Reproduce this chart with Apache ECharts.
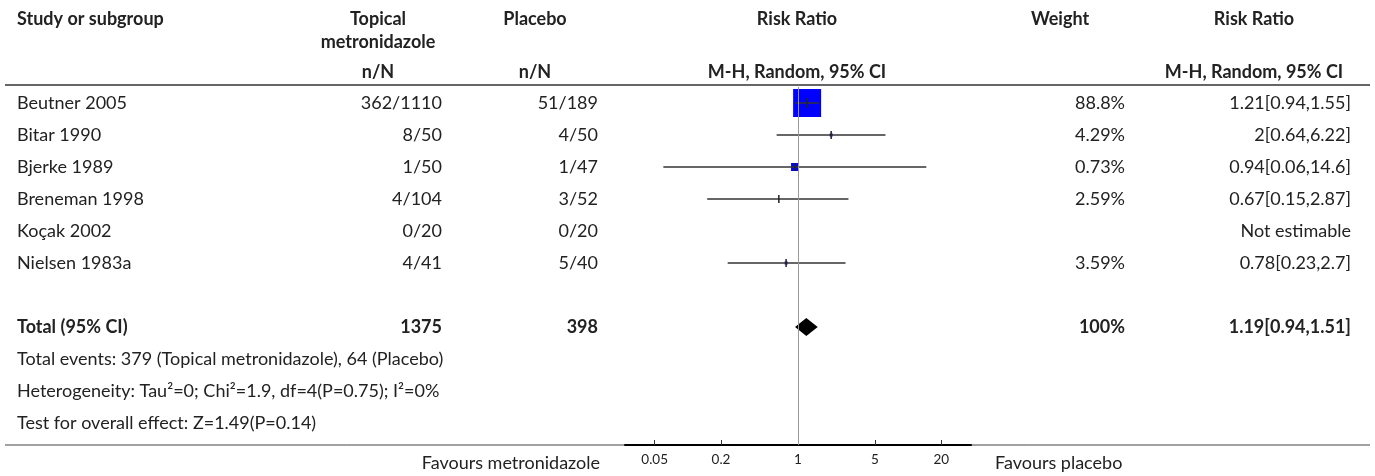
<!DOCTYPE html>
<html><head><meta charset="utf-8">
<script src="https://cdn.jsdelivr.net/npm/echarts@6/dist/echarts.min.js"></script>
<style>html,body{margin:0;padding:0;background:#fff}#c{width:1375px;height:476px}</style>
</head><body><div id="c"></div>
<script>
const studies = ['Beutner 2005','Bitar 1990','Bjerke 1989','Breneman 1998','Koçak 2002','Nielsen 1983a'];
const topicalNN = ['362/1110','8/50','1/50','4/104','0/20','4/41'];
const placeboNN = ['51/189','4/50','1/47','3/52','0/20','5/40'];
const weightText = ['88.8%','4.29%','0.73%','2.59%','','3.59%'];
const rr = [1.21, 2, 0.94, 0.67, null, 0.78];
const ciLow = [0.94, 0.64, 0.06, 0.15, null, 0.23];
const ciHigh = [1.55, 6.22, 14.6, 2.87, null, 2.7];
const rrText = ['1.21[0.94,1.55]','2[0.64,6.22]','0.94[0.06,14.6]','0.67[0.15,2.87]','Not estimable','0.78[0.23,2.7]'];
const totalLabel = 'Total (95% CI)';
const totalTopical = '1375';
const totalPlacebo = '398';
const totalWeight = '100%';
const totalRR = [1.19, 0.94, 1.51];
const totalRRText = '1.19[0.94,1.51]';
const footnotes = ['Total events: 379 (Topical metronidazole), 64 (Placebo)',
  'Heterogeneity: Tau\u00B2=0; Chi\u00B2=1.9, df=4(P=0.75); I\u00B2=0%',
  'Test for overall effect: Z=1.49(P=0.14)'];
const tickValues = [0.05, 0.2, 1, 5, 20];
const favoursLeft = 'Favours metronidazole';
const favoursRight = 'Favours placebo';

// layout / style constants
const boxPx = [28, 3, 8, 1, 0, 3];
const FONT = 'Lato';
const FS = 18;
const TXT = '#222';
const COL = {study: 17, topical: 442, placebo: 598, weight: 1125, rr: 1351};
const HEAD = {topical: 378, placebo: 535, forest: 797, weight: 1060, rr: 1254};
const studyRows = studies.map((s, i) => i);
const totalRow = 7;
const footRows = [8, 9, 10];
const AXMAX = 37.15;

const chart = echarts.init(document.getElementById('c'), null, {renderer: 'canvas'});

function txt(x, y, s, align, bold, size) {
  return {type: 'text', x: x, y: y, style: {text: s, x: 0, y: 0, textAlign: align, textVerticalAlign: 'middle',
    font: (bold ? 'bold ' : '') + (size || FS) + 'px ' + FONT, fill: TXT}};
}

const tableData = studies.map((s, i) => [1, studyRows[i], i]);
tableData.push([1, totalRow, -1]);
footRows.forEach((r, k) => tableData.push([1, r, -2 - k]));

const graphics = [
  txt(17, 19, 'Study or subgroup', 'left', true),
  txt(HEAD.topical, 19, 'Topical', 'center', true),
  txt(HEAD.topical, 42, 'metronidazole', 'center', true),
  txt(HEAD.topical, 72, 'n/N', 'center', true),
  txt(HEAD.placebo, 19, 'Placebo', 'center', true),
  txt(HEAD.placebo, 72, 'n/N', 'center', true),
  txt(HEAD.forest, 19, 'Risk Ratio', 'center', true),
  txt(HEAD.forest, 72, 'M-H, Random, 95% CI', 'center', true),
  txt(HEAD.weight, 19, 'Weight', 'center', true),
  txt(HEAD.rr, 19, 'Risk Ratio', 'center', true),
  txt(HEAD.rr, 72, 'M-H, Random, 95% CI', 'center', true),
  {type: 'line', shape: {x1: 5, y1: 85, x2: 1370, y2: 85}, style: {stroke: '#333', lineWidth: 1.5}},
  {type: 'line', shape: {x1: 5, y1: 445, x2: 1370, y2: 445}, style: {stroke: '#444', lineWidth: 1}},
  txt(600, 463, favoursLeft, 'right', false),
  txt(995, 463, favoursRight, 'left', false)
];

chart.setOption({
  animation: false,
  grid: {left: 625, width: 346, top: 87, height: 358},
  xAxis: {
    type: 'log', min: 1 / AXMAX, max: AXMAX, logBase: 10,
    axisLine: {show: true, onZero: false, lineStyle: {color: '#000', width: 2}},
    axisTick: {show: true, inside: true, length: 5, customValues: tickValues, lineStyle: {color: '#333', width: 1}},
    axisLabel: {show: true, customValues: tickValues, margin: 8, fontSize: 13.5, fontFamily: FONT, color: TXT,
      formatter: v => String(v)},
    splitLine: {show: false}, minorTick: {show: false}
  },
  yAxis: {type: 'value', inverse: true, min: -0.5, max: 10.6875, show: false},
  graphic: graphics,
  series: [
    {
      type: 'custom', name: 'table', silent: true, clip: false,
      data: tableData,
      renderItem: function (params, api) {
        const k = api.value(2);
        const y = api.coord([1, api.value(1)])[1];
        const ch = [];
        const t = (x, s, a, b) => ch.push({type: 'text', style: {text: s, x: x, y: y, textAlign: a, textVerticalAlign: 'middle',
          font: (b ? 'bold ' : '') + FS + 'px ' + FONT, fill: TXT}});
        if (k >= 0) {
          t(COL.study, studies[k], 'left');
          t(COL.topical, topicalNN[k], 'right');
          t(COL.placebo, placeboNN[k], 'right');
          t(COL.weight, weightText[k], 'right');
          t(COL.rr, rrText[k], 'right');
        } else if (k === -1) {
          t(COL.study, totalLabel, 'left', true);
          t(COL.topical, totalTopical, 'right', true);
          t(COL.placebo, totalPlacebo, 'right', true);
          t(COL.weight, totalWeight, 'right', true);
          t(COL.rr, totalRRText, 'right', true);
        } else {
          t(COL.study, footnotes[-2 - k], 'left');
        }
        return {type: 'group', children: ch};
      }
    },
    {
      type: 'custom', name: 'studies', silent: true, clip: false,
      data: studies.map((s, i) => rr[i] == null ? null : [rr[i], ciLow[i], ciHigh[i], studyRows[i], i]).filter(d => d),
      encode: {x: [0, 1, 2], y: 3},
      renderItem: function (params, api) {
        const row = api.value(3);
        const c = api.coord([api.value(0), row]);
        const l = api.coord([api.value(1), row]);
        const h = api.coord([api.value(2), row]);
        const b = boxPx[api.value(4)];
        const tick = api.value(4) === 0 ? 10 : 8;
        return {type: 'group', children: [
          {type: 'rect', shape: {x: c[0] - b / 2, y: c[1] - b / 2, width: b, height: b}, style: {fill: '#0000ff'}},
          {type: 'line', shape: {x1: l[0], y1: c[1], x2: h[0], y2: c[1]}, style: {stroke: '#333', lineWidth: 1.5}},
          {type: 'line', shape: {x1: c[0], y1: c[1] - tick / 2, x2: c[0], y2: c[1] + tick / 2}, style: {stroke: '#222', lineWidth: 1.5}}
        ]};
      },
      markLine: {
        silent: true, symbol: 'none', label: {show: false},
        lineStyle: {color: '#999', width: 1, type: 'solid'},
        data: [{xAxis: 1}]
      }
    },
    {
      type: 'custom', name: 'total', silent: true, clip: false,
      data: [[totalRR[0], totalRR[1], totalRR[2], totalRow]],
      encode: {x: [0, 1, 2], y: 3},
      renderItem: function (params, api) {
        const row = api.value(3);
        const c = api.coord([api.value(0), row]);
        const l = api.coord([api.value(1), row]);
        const h = api.coord([api.value(2), row]);
        return {type: 'polygon', shape: {points: [[l[0], c[1]], [c[0], c[1] - 9], [h[0], c[1]], [c[0], c[1] + 9]]},
          style: {fill: '#000'}};
      }
    }
  ]
});
</script></body></html>
